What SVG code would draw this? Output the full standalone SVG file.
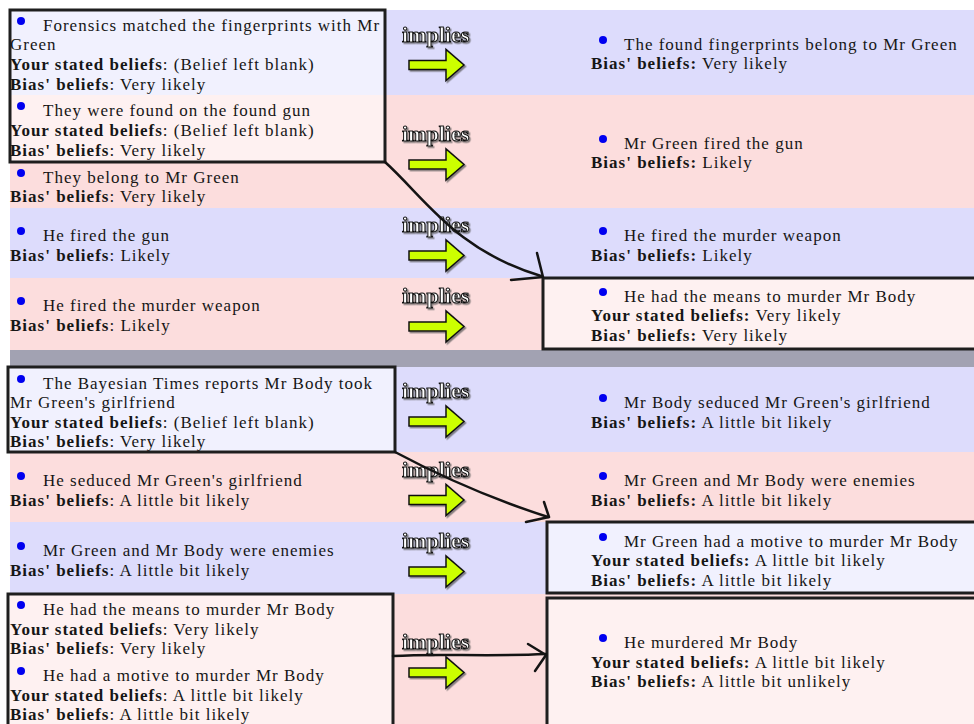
<svg xmlns="http://www.w3.org/2000/svg" width="974" height="724" viewBox="0 0 974 724">
<style>
.t{font-family:"Liberation Serif","Times New Roman",serif;font-size:17px;letter-spacing:1px;fill:#161616}
.b{font-weight:bold}
.dot{fill:#0000f0}
.box{fill:#fff;fill-opacity:.6;stroke:#1e1e1e;stroke-width:3}
.imp{font-family:"Liberation Serif","Times New Roman",serif;font-weight:bold;font-size:22px;fill:#fff;stroke:#111;stroke-width:1}
.arr{fill:#ccff00;stroke:#111;stroke-width:1.5;stroke-linejoin:miter}
.con{fill:none;stroke:#141414;stroke-width:2.5;stroke-linecap:round;stroke-linejoin:round}
.blue{fill:#dddcfc}
.pink{fill:#fcdddd}
</style>
<defs>
<filter id="sh" x="-10%" y="-20%" width="130%" height="150%">
<feDropShadow dx="1.5" dy="1.5" stdDeviation="0.6" flood-color="#555" flood-opacity="0.7"/>
</filter>
<g id="impl" filter="url(#sh)">
<text class="imp" x="402" y="-11">implies</text>
<polygon class="arr" points="409,8 446,8 446,-3 464,12.5 446,28 446,17 409,17"/>
</g>
</defs>
<rect width="974" height="724" fill="#fff"/>
<g id="rows">
<rect class="blue" x="10" y="10" width="964" height="85"/>
<rect class="pink" x="10" y="95" width="964" height="113"/>
<rect class="blue" x="10" y="208" width="964" height="70"/>
<rect class="pink" x="10" y="278" width="964" height="72"/>
<rect x="10" y="350" width="964" height="17" fill="#a2a2b2"/>
<rect class="blue" x="10" y="367" width="964" height="85"/>
<rect class="pink" x="10" y="452" width="964" height="70"/>
<rect class="blue" x="10" y="522" width="964" height="72"/>
<rect class="pink" x="10" y="594" width="964" height="130"/>
</g>
<g id="implies-labels">
<use href="#impl" y="52.5"/>
<use href="#impl" y="152"/>
<use href="#impl" y="243"/>
<use href="#impl" y="314"/>
<use href="#impl" y="409"/>
<use href="#impl" y="487.5"/>
<use href="#impl" y="559"/>
<use href="#impl" y="660"/>
</g>
<g id="boxA">
<rect class="box" x="10" y="10" width="375" height="152"/>
<g id="s-forensics">
<circle class="dot" cx="21" cy="21" r="4"/>
<text class="t" x="43" y="31">Forensics matched the fingerprints with Mr</text>
<text class="t" x="10" y="50">Green</text>
<text class="t" x="10" y="70"><tspan class="b">Your stated beliefs</tspan>: (Belief left blank)</text>
<text class="t" x="10" y="90"><tspan class="b">Bias' beliefs</tspan>: Very likely</text>
</g>
<g id="s-foundgun">
<circle class="dot" cx="21" cy="106" r="4"/>
<text class="t" x="43" y="116">They were found on the found gun</text>
<text class="t" x="10" y="136"><tspan class="b">Your stated beliefs</tspan>: (Belief left blank)</text>
<text class="t" x="10" y="156"><tspan class="b">Bias' beliefs</tspan>: Very likely</text>
</g>
</g>
<g id="s-belong">
<circle class="dot" cx="21" cy="173" r="4"/>
<text class="t" x="43" y="183">They belong to Mr Green</text>
<text class="t" x="10" y="202"><tspan class="b">Bias' beliefs</tspan>: Very likely</text>
</g>
<g id="s-firedgun">
<circle class="dot" cx="21" cy="231" r="4"/>
<text class="t" x="43" y="241">He fired the gun</text>
<text class="t" x="10" y="261"><tspan class="b">Bias' beliefs</tspan>: Likely</text>
</g>
<g id="s-firedweapon">
<circle class="dot" cx="21" cy="301" r="4"/>
<text class="t" x="43" y="311">He fired the murder weapon</text>
<text class="t" x="10" y="331"><tspan class="b">Bias' beliefs</tspan>: Likely</text>
</g>
<g id="r-fingerprints">
<circle class="dot" cx="603" cy="40" r="4"/>
<text class="t" x="624" y="50">The found fingerprints belong to Mr Green</text>
<text class="t" x="591" y="69"><tspan class="b">Bias' beliefs:</tspan> Very likely</text>
</g>
<g id="r-firedgun">
<circle class="dot" cx="603" cy="139" r="4"/>
<text class="t" x="624" y="149">Mr Green fired the gun</text>
<text class="t" x="591" y="168"><tspan class="b">Bias' beliefs:</tspan> Likely</text>
</g>
<g id="r-firedweapon">
<circle class="dot" cx="603" cy="231" r="4"/>
<text class="t" x="624" y="241">He fired the murder weapon</text>
<text class="t" x="591" y="261"><tspan class="b">Bias' beliefs:</tspan> Likely</text>
</g>
<g id="boxB">
<rect class="box" x="543" y="278" width="440" height="71"/>
<circle class="dot" cx="603" cy="292" r="4"/>
<text class="t" x="624" y="302">He had the means to murder Mr Body</text>
<text class="t" x="591" y="321"><tspan class="b">Your stated beliefs:</tspan> Very likely</text>
<text class="t" x="591" y="341"><tspan class="b">Bias' beliefs:</tspan> Very likely</text>
</g>
<g id="boxC">
<rect class="box" x="8" y="367" width="387" height="85"/>
<circle class="dot" cx="21" cy="379" r="4"/>
<text class="t" x="43" y="389">The Bayesian Times reports Mr Body took</text>
<text class="t" x="10" y="408">Mr Green's girlfriend</text>
<text class="t" x="10" y="428"><tspan class="b">Your stated beliefs</tspan>: (Belief left blank)</text>
<text class="t" x="10" y="447"><tspan class="b">Bias' beliefs</tspan>: Very likely</text>
</g>
<g id="s-seduced">
<circle class="dot" cx="21" cy="476" r="4"/>
<text class="t" x="43" y="486">He seduced Mr Green's girlfriend</text>
<text class="t" x="10" y="506"><tspan class="b">Bias' beliefs</tspan>: A little bit likely</text>
</g>
<g id="s-enemies">
<circle class="dot" cx="21" cy="546" r="4"/>
<text class="t" x="43" y="556">Mr Green and Mr Body were enemies</text>
<text class="t" x="10" y="576"><tspan class="b">Bias' beliefs</tspan>: A little bit likely</text>
</g>
<g id="r-seduced">
<circle class="dot" cx="603" cy="398" r="4"/>
<text class="t" x="624" y="408">Mr Body seduced Mr Green's girlfriend</text>
<text class="t" x="591" y="428"><tspan class="b">Bias' beliefs:</tspan> A little bit likely</text>
</g>
<g id="r-enemies">
<circle class="dot" cx="603" cy="476" r="4"/>
<text class="t" x="624" y="486">Mr Green and Mr Body were enemies</text>
<text class="t" x="591" y="506"><tspan class="b">Bias' beliefs:</tspan> A little bit likely</text>
</g>
<g id="boxD">
<rect class="box" x="547" y="522" width="440" height="71"/>
<circle class="dot" cx="603" cy="537" r="4"/>
<text class="t" x="624" y="547">Mr Green had a motive to murder Mr Body</text>
<text class="t" x="591" y="566"><tspan class="b">Your stated beliefs:</tspan> A little bit likely</text>
<text class="t" x="591" y="586"><tspan class="b">Bias' beliefs:</tspan> A little bit likely</text>
</g>
<g id="boxE">
<rect class="box" x="8" y="594" width="385" height="140"/>
<circle class="dot" cx="21" cy="605" r="4"/>
<text class="t" x="43" y="615">He had the means to murder Mr Body</text>
<text class="t" x="10" y="635"><tspan class="b">Your stated beliefs</tspan>: Very likely</text>
<text class="t" x="10" y="654"><tspan class="b">Bias' beliefs</tspan>: Very likely</text>
<circle class="dot" cx="21" cy="671" r="4"/>
<text class="t" x="43" y="681">He had a motive to murder Mr Body</text>
<text class="t" x="10" y="701"><tspan class="b">Your stated beliefs</tspan>: A little bit likely</text>
<text class="t" x="10" y="720"><tspan class="b">Bias' beliefs</tspan>: A little bit likely</text>
</g>
<g id="boxF">
<rect class="box" x="547" y="598" width="440" height="140"/>
<circle class="dot" cx="603" cy="638" r="4"/>
<text class="t" x="624" y="648">He murdered Mr Body</text>
<text class="t" x="591" y="668"><tspan class="b">Your stated beliefs:</tspan> A little bit likely</text>
<text class="t" x="591" y="687"><tspan class="b">Bias' beliefs:</tspan> A little bit unlikely</text>
</g>
<g id="connectors">
<path class="con" d="M385,162 C425,198 455,250 541,276"/>
<path class="con" d="M537,253 L543,277 L511,280"/>
<path class="con" d="M395,452 Q470,492 548,517"/>
<path class="con" d="M544,502 L549,517 L526,522"/>
<path class="con" d="M393,656 C440,653 480,657 546,654"/>
<path class="con" d="M528,644 L546,655 L535,671"/>
</g>
</svg>
